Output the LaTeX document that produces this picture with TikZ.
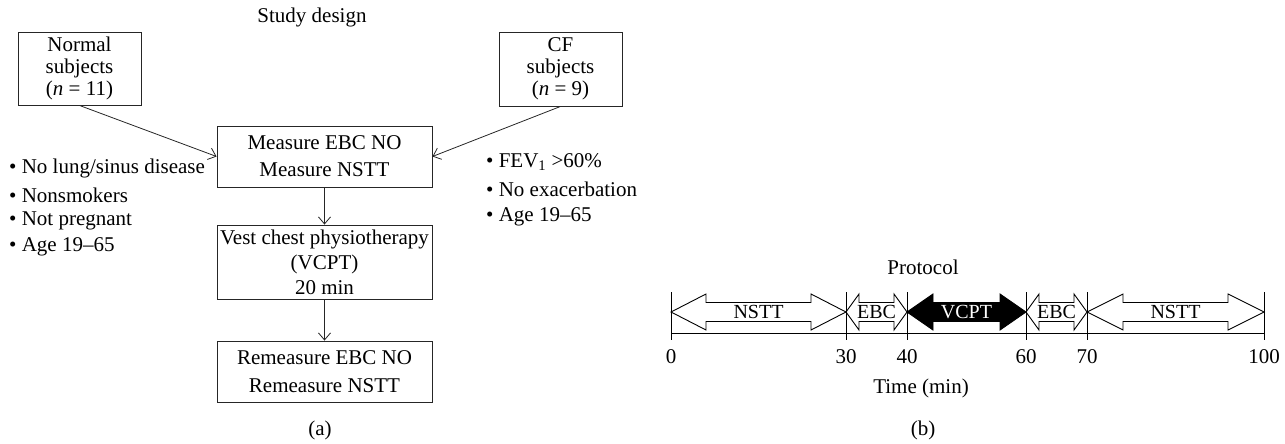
\documentclass[tikz,border=0pt]{standalone}
\usepackage{fontspec}
\setmainfont{Liberation Serif}
\usetikzlibrary{arrows.meta}
\begin{document}
\begin{tikzpicture}[x=1pt,y=-1pt,
  every node/.style={font=\fontsize{21}{22}\selectfont, inner sep=0pt, text=black},
  box/.style={draw=black!85, line width=0.9pt, align=center},
  arr/.style={draw=black!85, line width=0.8pt, -{Straight Barb[length=7pt,width=12pt]}},
  bul/.style={anchor=west},
  tl/.style={draw=black, line width=0.9pt},
  alab/.style={font=\fontsize{20}{22}\selectfont},
  parr/.style={draw=black, line width=0.9pt, line join=miter}]
\useasboundingbox (0,0) rectangle (1285,444);

% ---------------- (a) Study design ----------------
\node (title) at (312,17) {Study design};
\node[box, minimum width=123pt, minimum height=73pt] (normal) at (79.5,68.5) {Normal\\subjects\\(\textit{n} = 11)};
\node[box, minimum width=123pt, minimum height=74pt] (cf) at (560.5,69) {CF\\subjects\\(\textit{n} = 9)};
\node[box, minimum width=215pt, minimum height=61pt] (measure) at (324.5,156.5) {Measure EBC NO\\[5pt]Measure NSTT};
\node[box, minimum width=215pt, minimum height=74pt] (vcpt) at (324.5,262) {Vest chest physiotherapy\\[3pt](VCPT)\\[3pt]20 min};
\node[box, minimum width=215pt, minimum height=61pt] (remeasure) at (324.5,371.5) {Remeasure EBC NO\\[6pt]Remeasure NSTT};

\draw[arr] (normal.south) -- (measure.west);
\draw[arr] (cf.south) -- (measure.east);
\draw[arr] (measure.south) -- (vcpt.north);
\draw[arr] (vcpt.south) -- (remeasure.north);

\node[bul] (l1) at (9,168) {\textbullet\ No lung/sinus disease};
\node[bul] (l2) at (9,195) {\textbullet\ Nonsmokers};
\node[bul] (l3) at (9,221) {\textbullet\ Not pregnant};
\node[bul] (l4) at (9,247) {\textbullet\ Age 19–65};

\node[bul] (r1) at (486,162) {\textbullet\ FEV\textsubscript{1} >60\%};
\node[bul] (r2) at (486,189) {\textbullet\ No exacerbation};
\node[bul] (r3) at (486,217) {\textbullet\ Age 19–65};

\node (capa) at (320,430) {(a)};

% ---------------- (b) Protocol ----------------
\node (ptitle) at (923,267) {Protocol};

\foreach \a/\b/\h/\f in {671/846/35/white, 846/907/13/white, 907/1026/26/black, 1026/1087/13/white, 1087/1264/36/white}{
  \draw[parr, fill=\f] (\a,312) -- (\a+\h,294) -- (\a+\h,302.5) -- (\b-\h,302.5) -- (\b-\h,294)
     -- (\b,312) -- (\b-\h,330) -- (\b-\h,321.5) -- (\a+\h,321.5) -- (\a+\h,330) -- cycle;
}
\node[alab] (nstt1) at (758.5,312) {NSTT};
\node[alab] (ebc1) at (876.5,312) {EBC};
\node[alab, text=white] (vcptlab) at (966.5,312) {VCPT};
\node[alab] (ebc2) at (1056.5,312) {EBC};
\node[alab] (nstt2) at (1175.5,312) {NSTT};

\draw[tl] (671,333) -- (1264,333);
\foreach \x/\l in {671/0, 846/30, 907/40, 1026/60, 1087/70, 1264/100}{
  \draw[tl] (\x,292) -- (\x,340);
  \node (t\l) at (\x,357) {\l};
}
\node (xlabel) at (921,388) {Time (min)};
\node (capb) at (923,430) {(b)};
\end{tikzpicture}
\end{document}
